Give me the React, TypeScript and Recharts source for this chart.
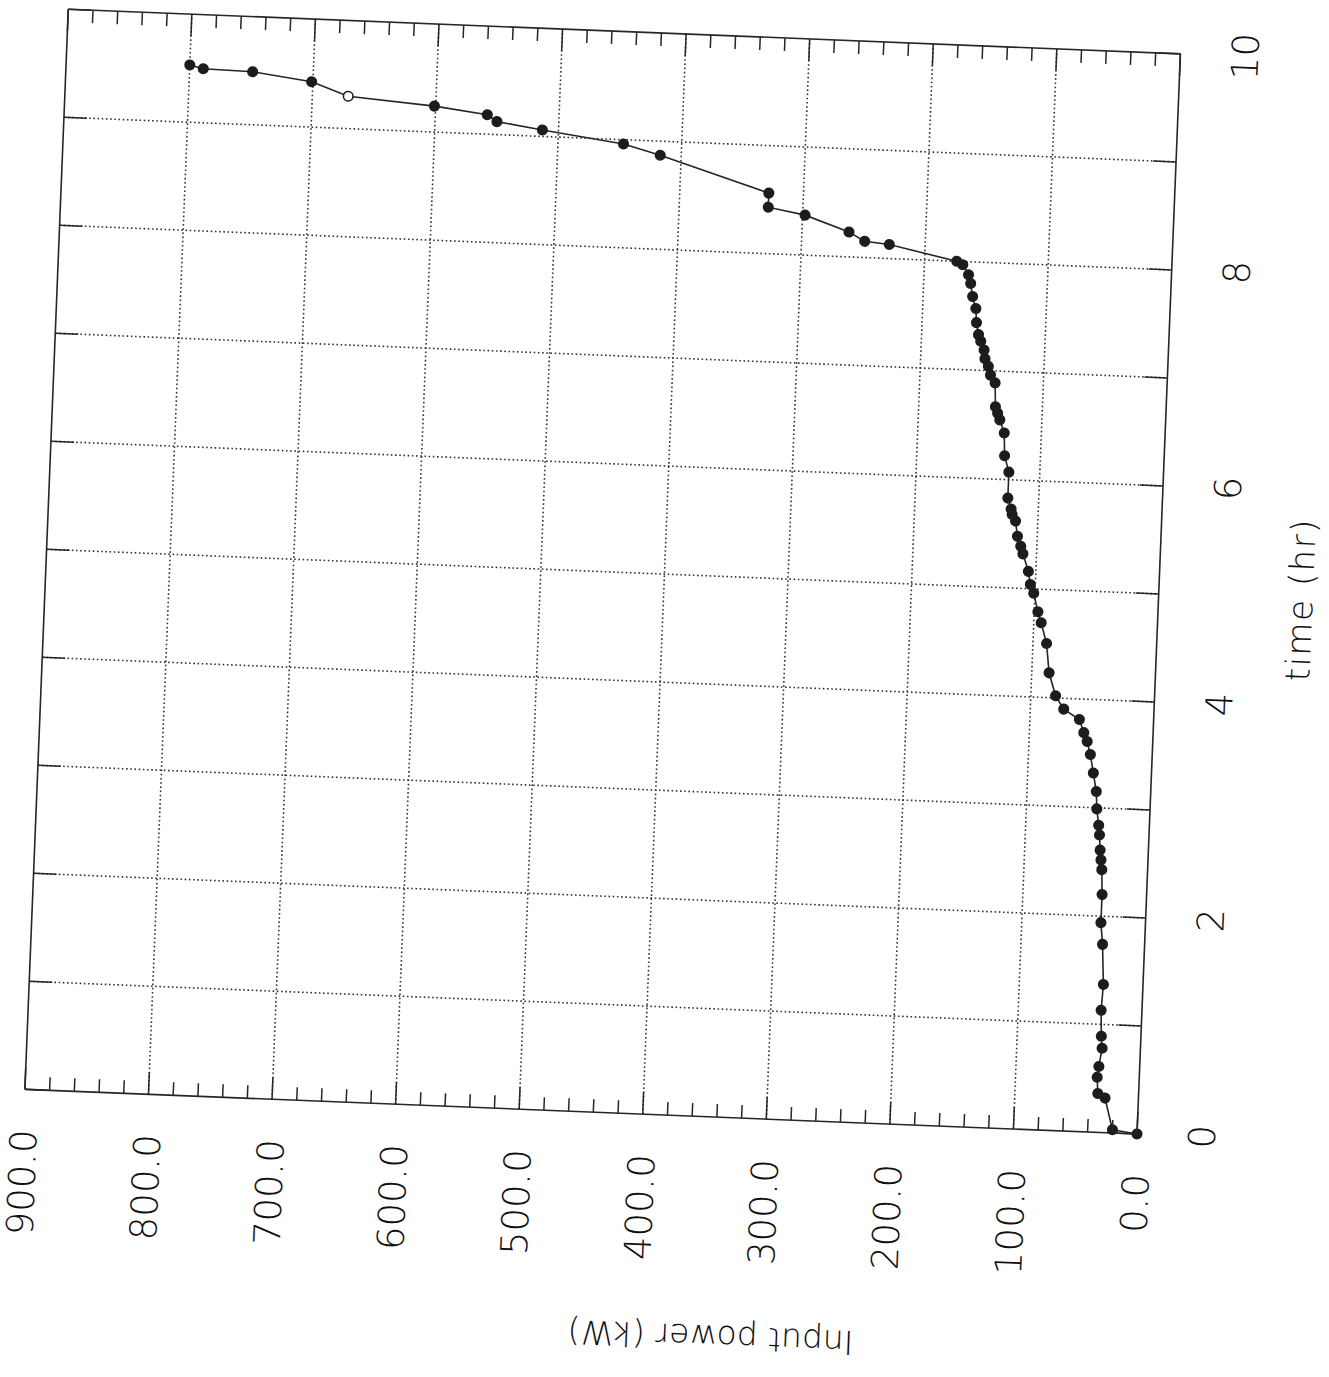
import React from 'react';
import { LineChart, Line, XAxis, YAxis, CartesianGrid } from 'recharts';

// readings from the plot (time in hours, input power in kW)
const timeHr = [
  0, 0.03, 0.32, 0.36, 0.51, 0.61, 0.78, 0.89, 1.13, 1.37, 1.74, 1.94, 2.2, 2.43, 2.52, 2.61,
  2.75, 2.84, 2.99, 3.15, 3.32, 3.49, 3.61, 3.69, 3.81, 3.9, 4.02, 4.23, 4.5, 4.69, 4.79, 4.96,
  5.04, 5.16, 5.32, 5.39, 5.48, 5.62, 5.68, 5.73, 5.83, 6.07, 6.22, 6.43, 6.55, 6.61, 6.67, 6.89,
  6.96, 7.04, 7.11, 7.19, 7.27, 7.33, 7.44, 7.57, 7.68, 7.8, 7.88, 7.97, 8.0, 8.13, 8.15, 8.23,
  8.37, 8.43, 8.56, 8.87, 8.96, 9.06, 9.12, 9.18, 9.24, 9.3, 9.42, 9.49, 9.5, 9.53,
];
const powerKw = [
  0, 20, 27, 33, 34, 33, 31, 32, 33, 32, 34, 36, 36, 37, 38, 39,
  40, 41, 43, 44, 47, 50, 53, 56, 60, 73, 80, 86, 89, 94, 97, 101,
  104, 106, 111, 113, 116, 118, 121, 122, 125, 125, 129, 130, 134, 136, 138, 139,
  143, 145, 148, 149, 152, 154, 156, 157, 160, 162, 164, 169, 174, 229, 249, 262,
  298, 328, 328, 417, 447, 513, 550, 558, 601, 671, 701, 749, 789, 800,
];
const openMarkerTime = 9.3;

const timeTicks = [0, 1, 2, 3, 4, 5, 6, 7, 8, 9, 10];
const timeLabels = [0, 2, 4, 6, 8, 10];
const timeGrid = [1, 2, 3, 4, 5, 6, 7, 8, 9];
const powerTicks = [
  0, 20, 40, 60, 80, 100, 120, 140, 160, 180, 200, 220, 240, 260, 280, 300, 320, 340, 360, 380,
  400, 420, 440, 460, 480, 500, 520, 540, 560, 580, 600, 620, 640, 660, 680, 700, 720, 740, 760,
  780, 800, 820, 840, 860, 880, 900,
];
const powerLabels = [0, 100, 200, 300, 400, 500, 600, 700, 800, 900];
const powerGrid = [100, 200, 300, 400, 500, 600, 700, 800];

const data = timeHr.map((t, i) => ({ time: t, power: powerKw[i] }));

// plot box (chart is drawn upright, then turned like the scanned page)
const PL = 270;
const PT = 40;
const PW = 1081;
const PH = 1113;
const PR = PL + PW;
const PB = PT + PH;
const W = PR + 50;
const H = PB + 175;

const ink = '#262626';
const font = { fontFamily: '"DejaVu Sans", sans-serif', fontWeight: 200, fill: '#111' };

const PowerTick = (props: any) => {
  const { y, payload } = props;
  const v = payload.value;
  const major = powerLabels.includes(v);
  return (
    <g>
      <line x1={PL} x2={PL + (major ? 22 : 13)} y1={y} y2={y} stroke={ink} strokeWidth={1.5} />
      {major && (
        <text x={PL - 40} y={y + 13.5} textAnchor="end" fontSize={37} {...font}>
          {v.toFixed(1)}
        </text>
      )}
    </g>
  );
};

const PowerTickRight = (props: any) => {
  const { y, payload } = props;
  const major = powerLabels.includes(payload.value);
  return <line x1={PR} x2={PR - (major ? 22 : 13)} y1={y} y2={y} stroke={ink} strokeWidth={1.5} />;
};

const TimeTick = (props: any) => {
  const { x, payload } = props;
  const v = payload.value;
  return (
    <g>
      <line x1={x} x2={x} y1={PB} y2={PB - 23} stroke={ink} strokeWidth={1.5} />
      {timeLabels.includes(v) && (
        <text x={x} y={PB + 78} textAnchor="middle" fontSize={37} {...font}>
          {v}
        </text>
      )}
    </g>
  );
};

const TimeTickTop = (props: any) => {
  const { x } = props;
  return <line x1={x} x2={x} y1={PT} y2={PT + 23} stroke={ink} strokeWidth={1.5} />;
};

const Marker = (props: any) => {
  const { cx, cy, index, payload } = props;
  const open = payload.time === openMarkerTime;
  return (
    <circle
      key={`m${index}`}
      cx={cx}
      cy={cy}
      r={4.8}
      fill={open ? '#ffffff' : '#1c1c1c'}
      stroke="#1c1c1c"
      strokeWidth={1.5}
    />
  );
};

const App: React.FC = () => {
  const lx = PL - 220;
  const ly = PB - 418;
  return (
    <div style={{ position: 'absolute', left: 0, top: 0, width: 1329, height: 1377, overflow: 'hidden', background: '#fff' }}>
      <div
        style={{
          position: 'absolute',
          left: 1137 - PL,
          top: 1134 - PB,
          width: W,
          height: H,
          transformOrigin: `${PL}px ${PB}px`,
          transform: 'rotate(-87.7deg)',
        }}
      >
        <LineChart width={W} height={H} data={data} margin={{ top: 20, right: 30, bottom: 0, left: 0 }}>
          <CartesianGrid
            horizontalValues={powerGrid}
            verticalValues={timeGrid}
            stroke="#333"
            strokeWidth={1.6}
            strokeDasharray="1.6 2.6"
          />
          <XAxis
            dataKey="time"
            type="number"
            domain={[0, 10]}
            ticks={timeTicks}
            interval={0}
            height={175}
            axisLine={{ stroke: ink, strokeWidth: 1.6 }}
            tickLine={false}
            tick={<TimeTick />}
            label={() => (
              <text x={PL + PW / 2} y={PB + 154} textAnchor="middle" fontSize={34} letterSpacing={1.5} {...font}>
                time (hr)
              </text>
            )}
          />
          <XAxis
            xAxisId="top"
            orientation="top"
            dataKey="time"
            type="number"
            domain={[0, 10]}
            ticks={timeTicks}
            interval={0}
            height={20}
            axisLine={{ stroke: ink, strokeWidth: 1.6 }}
            tickLine={false}
            tick={<TimeTickTop />}
          />
          <YAxis
            type="number"
            domain={[0, 900]}
            ticks={powerTicks}
            interval={0}
            width={PL}
            axisLine={{ stroke: ink, strokeWidth: 1.6 }}
            tickLine={false}
            tick={<PowerTick />}
            label={() => (
              <text
                x={lx}
                y={ly}
                transform={`rotate(-90, ${lx}, ${ly})`}
                textAnchor="middle"
                dominantBaseline="central"
                fontSize={33}
                {...font}
              >
                Input power (kW)
              </text>
            )}
          />
          <YAxis
            yAxisId="right"
            orientation="right"
            type="number"
            domain={[0, 900]}
            ticks={powerTicks}
            interval={0}
            width={20}
            axisLine={{ stroke: ink, strokeWidth: 1.6 }}
            tickLine={false}
            tick={<PowerTickRight />}
          />
          <Line
            xAxisId="top"
            yAxisId="right"
            type="linear"
            dataKey="power"
            stroke="none"
            dot={false}
            activeDot={false}
            legendType="none"
            isAnimationActive={false}
          />
          <Line
            type="linear"
            dataKey="power"
            stroke={ink}
            strokeWidth={1.6}
            dot={Marker}
            activeDot={false}
            isAnimationActive={false}
          />
        </LineChart>
      </div>
    </div>
  );
};

export default App;
